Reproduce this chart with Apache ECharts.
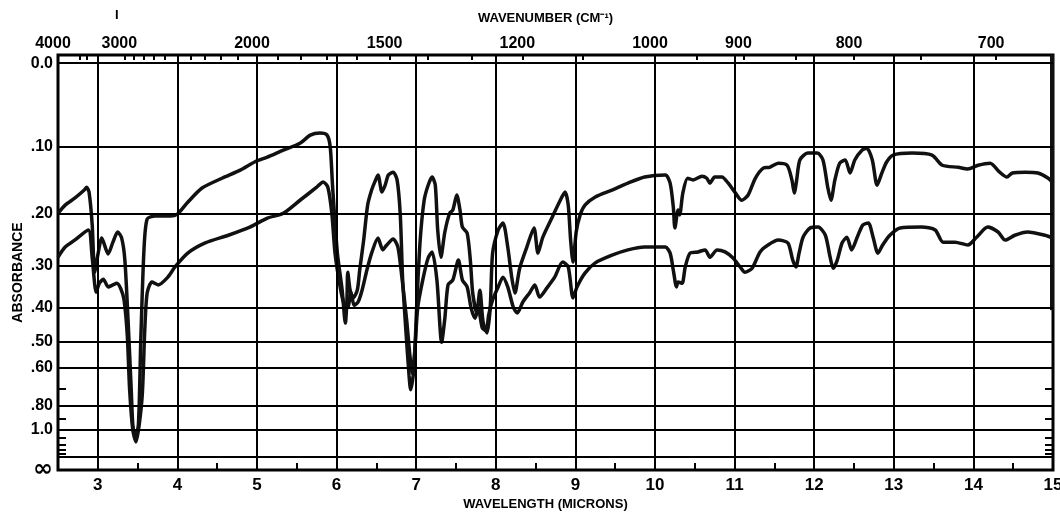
<!DOCTYPE html>
<html>
<head>
<meta charset="utf-8">
<script src="https://cdn.jsdelivr.net/npm/echarts@6/dist/echarts.min.js"></script>
<style>
html, body { margin: 0; padding: 0; background: #fff; }
#chart { width: 1060px; height: 513px; }
</style>
</head>
<body>
<div id="chart"></div>
<script>
// spectra: [wavelength (microns), transmittance (%)]
var upperCurve = [[2.50,63.1],[2.59,65.1],[2.71,66.8],[2.83,68.8],[2.86,69.5],[2.89,68.3],[2.93,60.2],[2.96,48.6],[3.00,52.8],[3.05,57.0],[3.13,53.1],[3.19,56.0],[3.25,58.5],[3.30,57.0],[3.34,51.6],[3.38,36.9],[3.42,19.7],[3.44,11.1],[3.47,7.9],[3.51,11.1],[3.54,31.9],[3.58,54.1],[3.62,61.7],[3.72,62.4],[3.91,62.4],[4.00,62.9],[4.13,65.8],[4.31,69.3],[4.56,71.7],[4.79,73.7],[4.97,75.7],[5.13,76.9],[5.33,78.6],[5.54,80.3],[5.67,82.3],[5.79,82.8],[5.88,82.3],[5.92,79.4],[5.95,69.5],[6.01,53.3],[6.07,44.2],[6.11,36.1],[6.13,41.8],[6.14,48.6],[6.17,44.2],[6.21,42.3],[6.26,44.2],[6.29,49.1],[6.34,56.5],[6.39,65.1],[6.44,68.8],[6.48,70.8],[6.52,72.5],[6.57,68.3],[6.61,70.0],[6.65,72.5],[6.71,73.2],[6.76,71.3],[6.80,62.7],[6.83,46.7],[6.87,34.4],[6.91,23.3],[6.93,19.7],[6.97,24.6],[7.01,41.8],[7.05,56.5],[7.10,66.3],[7.15,70.0],[7.20,72.0],[7.24,70.0],[7.27,59.0],[7.31,52.3],[7.36,58.5],[7.42,63.1],[7.46,63.9],[7.51,67.6],[7.55,63.9],[7.58,59.7],[7.64,58.2],[7.68,51.6],[7.71,43.5],[7.76,38.6],[7.80,44.2],[7.84,36.4],[7.89,33.7],[7.93,40.0],[7.96,53.3],[8.03,59.0],[8.09,60.7],[8.15,54.8],[8.20,47.4],[8.24,43.5],[8.30,49.6],[8.39,54.8],[8.48,59.5],[8.53,53.3],[8.59,57.2],[8.71,62.2],[8.81,66.3],[8.87,68.3],[8.91,65.1],[8.94,56.5],[8.97,51.1],[9.01,58.5],[9.06,62.7],[9.12,65.1],[9.25,67.1],[9.46,68.8],[9.66,70.5],[9.87,72.0],[10.13,72.5],[10.19,70.5],[10.23,64.6],[10.25,59.5],[10.29,63.9],[10.31,62.7],[10.35,68.1],[10.41,71.7],[10.48,71.3],[10.59,72.2],[10.65,71.7],[10.69,70.5],[10.75,72.0],[10.84,72.0],[10.92,70.5],[11.01,68.1],[11.09,66.3],[11.17,67.6],[11.26,71.7],[11.36,74.2],[11.44,74.4],[11.55,75.4],[11.66,74.9],[11.72,71.3],[11.75,68.1],[11.78,71.3],[11.82,76.2],[11.92,77.9],[12.04,77.9],[12.11,76.2],[12.17,69.5],[12.21,66.3],[12.26,71.3],[12.32,75.4],[12.39,76.2],[12.45,73.0],[12.51,76.2],[12.60,78.6],[12.66,79.1],[12.73,76.2],[12.79,70.0],[12.85,73.0],[12.91,75.7],[12.99,77.4],[13.23,77.9],[13.48,77.4],[13.61,74.9],[13.81,74.4],[13.93,74.0],[14.06,74.9],[14.21,75.4],[14.33,73.2],[14.42,72.0],[14.49,73.0],[14.65,73.2],[14.81,73.0],[14.94,71.7],[15.00,70.5]];

var lowerCurve = [[2.50,52.3],[2.59,54.8],[2.71,56.5],[2.88,59.0],[2.93,52.1],[2.98,43.7],[3.02,45.9],[3.07,46.9],[3.13,45.0],[3.19,45.5],[3.24,45.9],[3.29,44.5],[3.33,41.8],[3.37,33.2],[3.40,19.7],[3.44,9.8],[3.48,6.9],[3.52,11.1],[3.56,18.9],[3.59,34.4],[3.62,43.5],[3.68,46.2],[3.76,45.5],[3.88,47.4],[3.97,49.9],[4.13,53.3],[4.35,55.8],[4.64,57.7],[4.91,59.7],[5.13,61.9],[5.33,63.1],[5.54,66.3],[5.75,69.5],[5.83,70.8],[5.89,69.5],[5.94,63.1],[5.98,53.3],[6.04,45.5],[6.09,41.0],[6.14,40.0],[6.18,43.7],[6.22,40.5],[6.27,41.3],[6.32,44.2],[6.38,49.1],[6.44,53.3],[6.52,57.0],[6.58,54.1],[6.63,55.3],[6.71,56.8],[6.77,54.8],[6.82,47.4],[6.88,36.9],[6.92,28.3],[6.95,23.8],[6.98,28.7],[7.02,40.0],[7.09,47.4],[7.15,52.1],[7.20,53.6],[7.26,46.7],[7.32,31.4],[7.36,37.3],[7.40,45.5],[7.46,46.7],[7.53,51.6],[7.58,46.7],[7.64,45.0],[7.69,39.8],[7.74,37.3],[7.78,39.8],[7.83,34.9],[7.88,34.2],[7.91,38.1],[7.96,41.8],[8.03,45.0],[8.09,47.4],[8.15,45.0],[8.22,40.0],[8.27,38.6],[8.34,41.3],[8.43,43.7],[8.49,45.5],[8.55,42.5],[8.64,44.7],[8.74,47.4],[8.84,51.1],[8.91,49.9],[8.97,42.3],[9.02,45.0],[9.12,48.4],[9.25,50.9],[9.46,52.8],[9.66,54.1],[9.87,54.8],[10.13,54.8],[10.19,53.3],[10.23,49.1],[10.27,45.0],[10.29,46.2],[10.34,45.9],[10.38,49.9],[10.44,53.3],[10.54,53.6],[10.63,54.1],[10.69,52.3],[10.78,54.1],[10.88,53.6],[10.98,52.1],[11.07,49.9],[11.13,48.6],[11.22,49.6],[11.32,53.6],[11.42,55.3],[11.55,56.5],[11.67,55.8],[11.73,51.6],[11.77,49.9],[11.81,53.3],[11.86,57.2],[11.95,59.5],[12.05,59.7],[12.14,57.7],[12.20,52.3],[12.24,49.6],[12.29,51.6],[12.35,55.8],[12.41,57.2],[12.47,54.1],[12.54,57.2],[12.61,60.2],[12.68,60.7],[12.74,57.2],[12.80,53.3],[12.86,55.3],[12.95,57.7],[13.08,59.5],[13.35,59.7],[13.52,59.0],[13.62,56.0],[13.77,56.0],[13.93,55.3],[14.04,57.2],[14.18,59.7],[14.31,58.5],[14.40,56.5],[14.52,57.7],[14.68,58.5],[14.90,57.7],[15.00,57.0]];

// absorbance scale (drawn linear in transmittance)
var absLabelVals = [0, 0.1, 0.2, 0.3, 0.4, 0.5, 0.6, 0.8, 1.0, Infinity];
var absLabelText = ['0.0', '.10', '.20', '.30', '.40', '.50', '.60', '.80', '1.0', '{inf|\u221e}'];
var absGridVals = [0, 0.1, 0.2, 0.3, 0.4, 0.5, 0.6, 0.8, 1.0, 1.5];
var absMinorVals = [0.7, 0.9, 1.1, 1.2, 1.3, 1.4];

var micronLabels = [3, 4, 5, 6, 7, 8, 9, 10, 11, 12, 13, 14, 15];
var micronGrid = [3, 4, 5, 6, 7, 8, 9, 10, 11, 12, 13, 14];
var micronHalf = [3.5, 4.5, 5.5, 6.5, 7.5, 8.5, 9.5, 10.5, 11.5, 12.5, 13.5, 14.5];

var wnLabels = [4000, 3000, 2000, 1500, 1200, 1000, 900, 800, 700];
var wnTicks = [3600, 3500, 3000, 2900, 2800, 2700, 2600, 2400, 2300, 2200, 2100, 1900, 1800, 1700, 1600, 1500, 1400, 1300, 1200, 1100, 950, 900, 850, 800, 750, 700];

function toT(a) { return a === Infinity ? 0 : 100 * Math.pow(10, -a); }
function toMicron(wn) { return 10000 / wn; }

var labelFont = { color: '#000', fontWeight: 'bold', fontFamily: 'Liberation Sans, Arial, sans-serif' };
var tickLine = { color: '#000', width: 2 };
var T_MAX = 102;

// grid lines: integer microns and the absorbance rulings
var gridLines = micronGrid.map(function (v) { return { xAxis: v }; })
    .concat(absGridVals.map(function (a) { return { yAxis: toT(a) }; }));

var chart = echarts.init(document.getElementById('chart'));

var option = {
    animation: false,
    backgroundColor: '#fff',
    grid: {
        left: 58, right: 7, top: 55, bottom: 43,
        outerBoundsMode: 'none', containLabel: false,
        show: true, borderColor: '#000', borderWidth: 3
    },
    xAxis: [{
        type: 'value', position: 'bottom', min: 2.5, max: 15,
        axisLine: { show: false, onZero: false },
        axisTick: { show: true, inside: true, length: 7, customValues: micronHalf, lineStyle: tickLine },
        splitLine: { show: false },
        axisLabel: Object.assign({ customValues: micronLabels, fontSize: 17, margin: 7 }, labelFont),
        name: 'WAVELENGTH (MICRONS)', nameLocation: 'middle', nameGap: 28, nameMoveOverlap: false,
        nameTextStyle: Object.assign({ fontSize: 13, padding: [0, 20, 0, 0] }, labelFont)
    }, {
        type: 'value', position: 'top', min: 2.5, max: 15,
        axisLine: { show: false, onZero: false },
        axisTick: { show: true, inside: true, length: 5, customValues: wnTicks.map(toMicron), lineStyle: tickLine },
        splitLine: { show: false },
        axisLabel: Object.assign({
            customValues: wnLabels.map(toMicron), fontSize: 16, margin: 3, padding: [0, 10, 0, 0],
            formatter: function (v) { return String(Math.round(10000 / v)); }
        }, labelFont),
        name: 'WAVENUMBER (CM\u207b\u00b9)', nameLocation: 'middle', nameGap: 30, nameMoveOverlap: false,
        nameTextStyle: Object.assign({ fontSize: 13, padding: [0, 20, 0, 0] }, labelFont)
    }],
    yAxis: [{
        type: 'value', position: 'left', min: 0, max: T_MAX,
        axisLine: { show: false, onZero: false },
        axisTick: { show: true, inside: true, length: 8, customValues: absMinorVals.map(toT), lineStyle: tickLine },
        splitLine: { show: false },
        axisLabel: Object.assign({
            customValues: absLabelVals.map(toT), fontSize: 16, margin: 5,
            rich: { inf: { fontSize: 24, fontWeight: 'bold', color: '#000', fontFamily: 'DejaVu Sans, sans-serif' } },
            formatter: function (v) {
                for (var i = 0; i < absLabelVals.length; i++) {
                    if (Math.abs(toT(absLabelVals[i]) - v) < 0.01) return absLabelText[i];
                }
                return '';
            }
        }, labelFont),
        name: 'ABSORBANCE', nameLocation: 'middle', nameGap: 33, nameRotate: 90, nameMoveOverlap: false,
        nameTextStyle: Object.assign({ fontSize: 14, padding: [0, 20, 0, 0] }, labelFont)
    }, {
        type: 'value', position: 'right', min: 0, max: T_MAX,
        axisLine: { show: false, onZero: false },
        axisTick: { show: true, inside: true, length: 8, customValues: absMinorVals.map(toT), lineStyle: tickLine },
        axisLabel: { show: false }, splitLine: { show: false }
    }],
    graphic: [{
        type: 'text', left: 115, top: 9,
        style: { text: 'I', fontSize: 13, fontWeight: 'bold', fill: '#000', fontFamily: 'Liberation Sans, Arial, sans-serif' }
    }],
    series: [{
        name: 'upper', type: 'line', xAxisIndex: 0, yAxisIndex: 0,
        data: upperCurve, showSymbol: false, symbol: 'none',
        smooth: 0.25,
        lineStyle: { color: '#111', width: 3.5 },
        markLine: {
            silent: true, symbol: 'none', label: { show: false },
            lineStyle: { color: '#111', width: 4, type: 'solid' },
            data: [[{ coord: [14.98, T_MAX] }, { coord: [14.98, 39.3] }]]
        }
    }, {
        name: 'lower', type: 'line', xAxisIndex: 0, yAxisIndex: 0,
        data: lowerCurve, showSymbol: false, symbol: 'none',
        smooth: 0.25,
        lineStyle: { color: '#111', width: 3.5 },
        markLine: {
            silent: true, symbol: 'none', label: { show: false },
            lineStyle: { color: '#000', width: 2, type: 'solid' },
            data: gridLines
        }
    }]
};

chart.setOption(option);
</script>
</body>
</html>
